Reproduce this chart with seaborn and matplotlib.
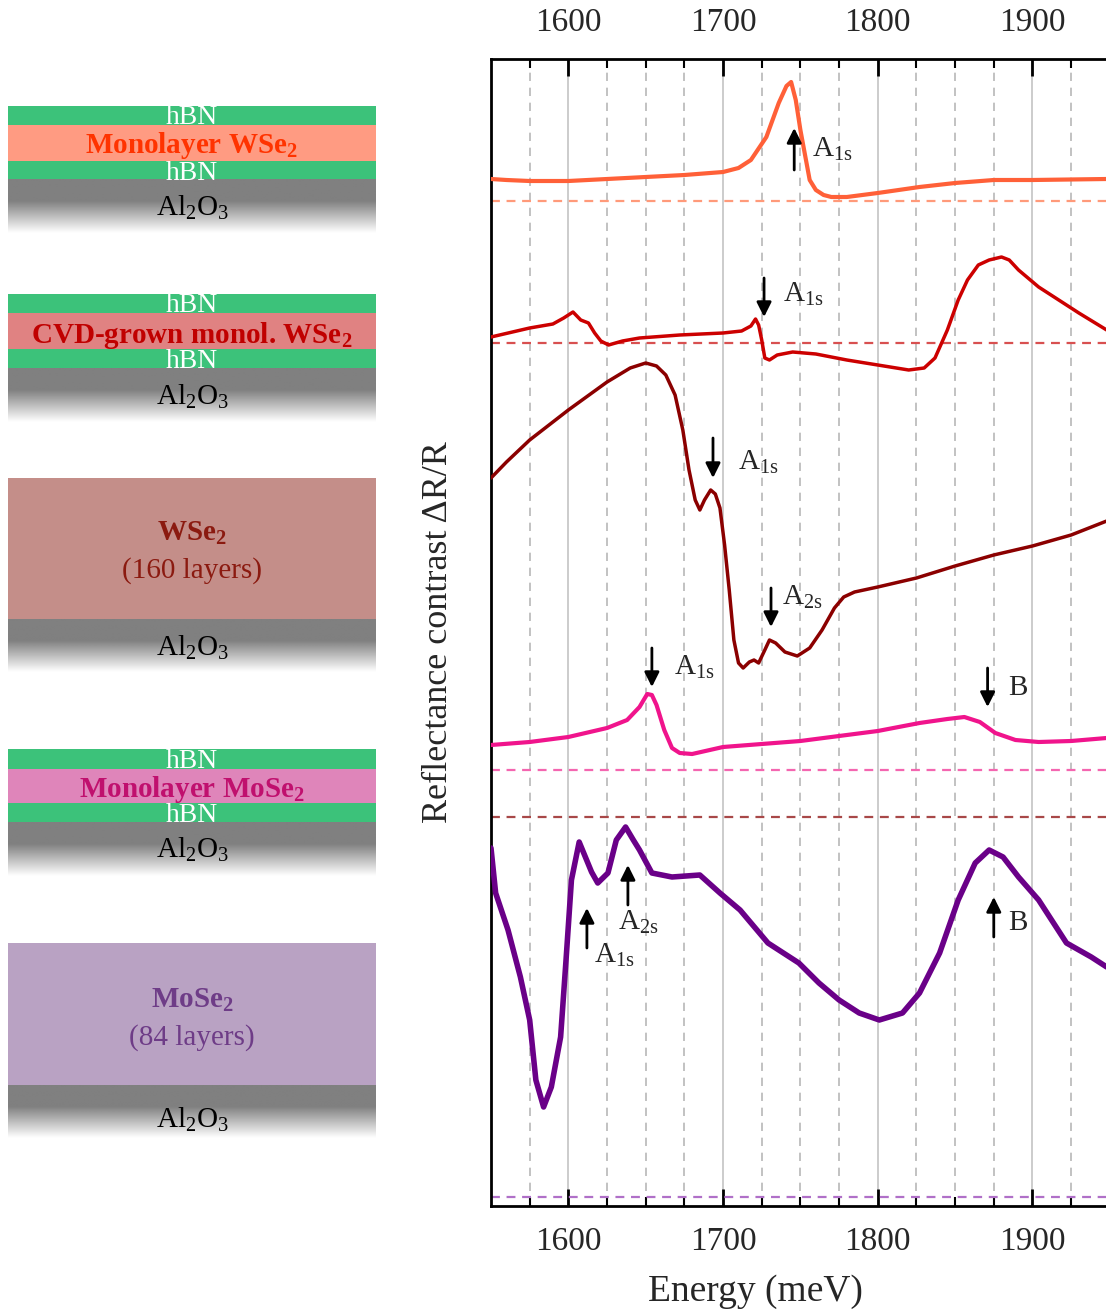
import numpy as np
import pandas as pd
import matplotlib
matplotlib.use("Agg")
import matplotlib.pyplot as plt
from matplotlib.patches import Rectangle
import seaborn as sns

# Espectros de refletância (energia em meV, sinal em unidades arbitrárias acima da linha de base)
e_ml_wse2 = [1550, 1560, 1575, 1600, 1625, 1650, 1675, 1700, 1710, 1718, 1728, 1736, 1741, 1744,
             1747, 1750, 1753, 1756, 1760, 1765, 1770, 1780, 1800, 1827, 1850, 1875, 1900, 1948]
s_ml_wse2 = [0.22, 0.21, 0.20, 0.20, 0.22, 0.24, 0.26, 0.29, 0.33, 0.41, 0.64, 0.98, 1.15, 1.19,
             1.01, 0.71, 0.46, 0.21, 0.11, 0.06, 0.04, 0.04, 0.08, 0.14, 0.18, 0.21, 0.21, 0.22]

e_cvd = [1550, 1575, 1590, 1597, 1603, 1608, 1613, 1617, 1621, 1626, 1635, 1646, 1672, 1700, 1712,
         1718, 1721, 1723, 1725, 1727, 1730, 1735, 1745, 1760, 1780, 1800, 1820, 1830, 1837, 1845,
         1852, 1858, 1865, 1872, 1880, 1885, 1891, 1904, 1930, 1948]
s_cvd = [0.06, 0.15, 0.19, 0.25, 0.31, 0.23, 0.20, 0.10, 0.02, -0.02, 0.02, 0.05, 0.08, 0.10, 0.12,
         0.17, 0.24, 0.18, 0.03, -0.15, -0.17, -0.12, -0.09, -0.11, -0.17, -0.22, -0.27, -0.25, -0.15, 0.13,
         0.43, 0.63, 0.78, 0.83, 0.86, 0.83, 0.73, 0.56, 0.30, 0.13]

e_bulk_wse2 = [1550, 1560, 1575, 1600, 1625, 1640, 1650, 1657, 1663, 1669, 1674, 1678, 1682, 1685,
               1688, 1692, 1695, 1698, 1701, 1704, 1707, 1710, 1713, 1717, 1720, 1723, 1727, 1730,
               1734, 1740, 1748, 1756, 1764, 1772, 1778, 1785, 1800, 1825, 1850, 1875, 1900, 1925, 1948]
s_bulk_wse2 = [3.39, 3.55, 3.77, 4.07, 4.35, 4.49, 4.54, 4.51, 4.42, 4.22, 3.87, 3.47, 3.17, 3.07,
               3.17, 3.27, 3.23, 3.09, 2.72, 2.27, 1.77, 1.54, 1.49, 1.55, 1.57, 1.54, 1.67, 1.77,
               1.74, 1.65, 1.61, 1.69, 1.87, 2.09, 2.20, 2.25, 2.30, 2.39, 2.51, 2.62, 2.71, 2.82, 2.96]

e_ml_mose2 = [1550, 1575, 1600, 1625, 1638, 1646, 1651, 1654, 1657, 1662, 1667, 1672, 1680, 1700,
              1750, 1800, 1827, 1845, 1856, 1866, 1876, 1889, 1904, 1925, 1948]
s_ml_mose2 = [0.25, 0.28, 0.33, 0.42, 0.50, 0.63, 0.76, 0.75, 0.65, 0.40, 0.22, 0.17, 0.16, 0.23,
              0.29, 0.39, 0.47, 0.51, 0.53, 0.48, 0.37, 0.30, 0.28, 0.29, 0.32]

e_bulk_mose2 = [1550, 1553, 1561, 1569, 1575, 1579, 1584, 1589, 1595, 1598.5, 1602, 1607, 1611, 1615,
                1619, 1625.6, 1631, 1637, 1642, 1646, 1654, 1667, 1685, 1698, 1711, 1729, 1749, 1762,
                1775, 1788, 1801, 1816, 1827, 1840, 1852, 1863, 1872, 1881, 1891, 1904, 1922, 1938, 1948]
s_bulk_mose2 = [3.49, 3.04, 2.67, 2.20, 1.77, 1.17, 0.90, 1.10, 1.60, 2.37, 3.17, 3.55, 3.40, 3.25,
                3.14, 3.24, 3.57, 3.70, 3.57, 3.47, 3.24, 3.20, 3.22, 3.04, 2.87, 2.54, 2.34, 2.14,
                1.97, 1.84, 1.77, 1.84, 2.04, 2.44, 2.97, 3.34, 3.47, 3.40, 3.20, 2.97, 2.54, 2.40, 2.30]

# Linhas de base (deslocamento vertical de cada espectro)
offsets = [10.05, 8.63, 3.89, 4.36, 0.09]
colors = ['#ff6038', '#cc0000', '#8b0000', '#f0148c', '#6a0088']
base_colors = ['#ff9a7a', '#d85050', '#a84848', '#f466b0', '#b070c8']
widths = [3.0, 2.5, 2.5, 3.0, 4.0]

series = [(e_ml_wse2, s_ml_wse2), (e_cvd, s_cvd), (e_bulk_wse2, s_bulk_wse2),
          (e_ml_mose2, s_ml_mose2), (e_bulk_mose2, s_bulk_mose2)]

# Setas (energia, cauda, ponta) e rótulos (energia, linha de base do texto, texto)
arrows = [(1746, 10.36, 10.78), (1726.5, 9.28, 8.89), (1693.5, 7.68, 7.28), (1731, 6.18, 5.79),
          (1654, 5.58, 5.19), (1871, 5.38, 4.99), (1612, 2.58, 2.98), (1638.5, 3.01, 3.41),
          (1875, 2.69, 3.09)]
labels = [(1757.5, 10.49, r'A$_\mathrm{1s}$'), (1738.8, 9.04, r'A$_\mathrm{1s}$'),
          (1709.7, 7.36, r'A$_\mathrm{1s}$'), (1738, 6.01, r'A$_\mathrm{2s}$'),
          (1668, 5.31, r'A$_\mathrm{1s}$'), (1884, 5.11, 'B'),
          (1616.5, 2.43, r'A$_\mathrm{1s}$'), (1632, 2.76, r'A$_\mathrm{2s}$'), (1884, 2.76, 'B')]

# Esquemas das amostras: (topo em px, [(espessura, cor)])
hbn = '#3cc27a'
stacks = [
    (106, [(19, hbn), (36, '#ff9b82'), (18, hbn), (54, 'al2o3')]),
    (294, [(19, hbn), (36, '#e08282'), (19, hbn), (54, 'al2o3')]),
    (478, [(141, '#c48e89'), (53, 'al2o3')]),
    (749, [(20, hbn), (34, '#df85ba'), (19, hbn), (54, 'al2o3')]),
    (943, [(142, '#b9a2c3'), (53, 'al2o3')]),
]
stack_texts = [
    (124, 'hBN', 'white', 'normal'), (153, r'Monolayer WSe$_\mathbf{2}$', '#ff3300', 'bold'),
    (180, 'hBN', 'white', 'normal'), (216, r'Al$_2$O$_3$', 'black', 'normal'),
    (312, 'hBN', 'white', 'normal'), (343, r'CVD-grown monol. WSe$_\mathbf{2}$', '#c00000', 'bold'),
    (368, 'hBN', 'white', 'normal'), (405, r'Al$_2$O$_3$', 'black', 'normal'),
    (541, r'WSe$_\mathbf{2}$', '#8b1a10', 'bold'), (578, '(160 layers)', '#8b1a10', 'normal'),
    (656, r'Al$_2$O$_3$', 'black', 'normal'),
    (768, 'hBN', 'white', 'normal'), (797, r'Monolayer MoSe$_\mathbf{2}$', '#c0106e', 'bold'),
    (822, 'hBN', 'white', 'normal'), (858, r'Al$_2$O$_3$', 'black', 'normal'),
    (1008, r'MoSe$_\mathbf{2}$', '#6e3c87', 'bold'), (1045, '(84 layers)', '#6e3c87', 'normal'),
    (1128, r'Al$_2$O$_3$', 'black', 'normal'),
]

sns.set_theme(style="white")
plt.rcParams['font.family'] = ['Liberation Serif', 'DejaVu Serif']
plt.rcParams['mathtext.fontset'] = 'custom'
plt.rcParams['mathtext.rm'] = 'Liberation Serif'
plt.rcParams['mathtext.it'] = 'Liberation Serif:italic'
plt.rcParams['mathtext.bf'] = 'Liberation Serif:bold'

fig = plt.figure(figsize=(11.06, 13.13), dpi=100)

# Painel esquerdo com as camadas
ax0 = fig.add_axes([0, 0, 1, 1])
ax0.axis('off')
grad = np.concatenate([np.full(40, 0.5), np.linspace(0.5, 1.0, 60)])[:, None]
for top, layers in stacks:
    y = top
    for h, c in layers:
        if c == 'al2o3':
            ax0.imshow(grad, cmap='gray', vmin=0, vmax=1, extent=(8, 376, y + h, y),
                       aspect='auto', origin='upper', interpolation='bilinear')
        else:
            ax0.add_patch(Rectangle((8, y), 368, h, facecolor=c, edgecolor='none'))
        y += h
for yb, txt, c, w in stack_texts:
    fs = 20 if txt == 'hBN' else 21
    ax0.text(192, yb, txt, color=c, fontweight=w, fontsize=fs, ha='center', va='baseline')
ax0.set_xlim(0, 1106)
ax0.set_ylim(1313, 0)

# Painel dos espectros
ax = fig.add_axes([491 / 1106, 107 / 1313, 618.8 / 1106, 1147 / 1313])
for (e, s), off, c, bc, lw in zip(series, offsets, colors, base_colors, widths):
    ax.axhline(off, color=bc, ls=(0, (4, 3)), lw=1.6, zorder=2)
    sns.lineplot(x=np.array(e), y=off + np.array(s), color=c, lw=lw, ax=ax, zorder=3)

for e, tail, tip in arrows:
    ax.annotate('', xy=(e, tip), xytext=(e, tail),
                arrowprops=dict(arrowstyle='-|>', color='black', lw=2, mutation_scale=22,
                                shrinkA=0, shrinkB=0), zorder=4)
for e, yb, txt in labels:
    ax.text(e, yb, txt, fontsize=21, ha='left', va='baseline', zorder=4)

ax.set_xlim(1550, 1950)
ax.set_ylim(0, 11.47)
ax.set_xticks([1600, 1700, 1800, 1900])
ax.set_xticks(np.arange(1575, 1950, 25), minor=True)
ax.set_yticks([])
ax.xaxis.grid(True, which='major', color='#c4c4c4', lw=1.2, ls='-')
ax.xaxis.grid(True, which='minor', color='#b8b8b8', lw=1.2, ls=(0, (5, 4)))
ax.set_axisbelow(True)
ax.tick_params(axis='x', which='both', direction='in', top=True, bottom=True,
               labeltop=True, labelbottom=True, labelsize=24, pad=15, color='black')
ax.tick_params(axis='x', which='major', length=12, width=2)
ax.tick_params(axis='x', which='minor', length=6.5, width=1.5)
for side in ['left', 'top', 'bottom']:
    ax.spines[side].set_linewidth(2)
    ax.spines[side].set_color('black')
ax.spines['right'].set_visible(False)
ax.set_xlabel('Energy (meV)', fontsize=27)
ax.xaxis.set_label_coords(0.4266, -0.075)
ax.xaxis.label.set_verticalalignment('center')
ax.set_ylabel('Reflectance contrast ΔR/R', fontsize=26, labelpad=26)

fig.savefig('out.png', dpi=100)
